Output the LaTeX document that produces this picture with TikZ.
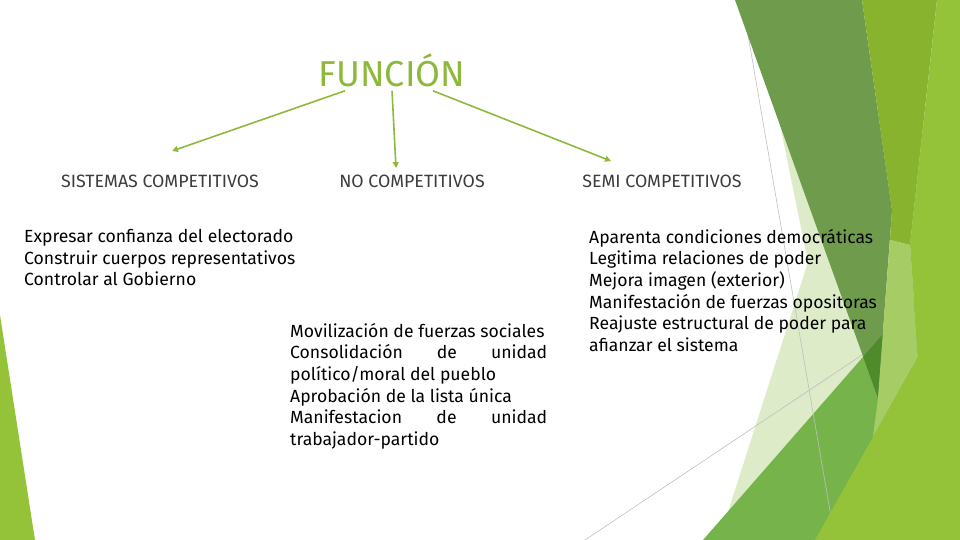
\documentclass[tikz,border=0pt]{standalone}
\usepackage{fontspec}
\setmainfont{Fira Sans}
\usepackage{xcolor}
\usetikzlibrary{positioning,arrows.meta}

\definecolor{tituloverde}{HTML}{8DB83A}
\definecolor{flechaverde}{HTML}{8DBA3C}
\definecolor{grisoscuro}{HTML}{3C3C3C}
\definecolor{palido}{HTML}{DDEBC8}
\definecolor{verdemedio}{HTML}{77B34B}
\definecolor{oliva}{HTML}{6E9B4C}
\definecolor{olivaoscuro}{HTML}{4F8A2B}
\definecolor{amarilloverde}{HTML}{87B32F}
\definecolor{verdeclaro}{HTML}{A6CC66}
\definecolor{lima}{HTML}{94C33A}
\definecolor{lineagris}{HTML}{BFBFBF}

\begin{document}
\begin{tikzpicture}[
    x=1pt, y=-1pt,
    font=\fontsize{17.6}{21.6}\selectfont,
    titulo/.style={font=\fontsize{36}{40}\selectfont, text=tituloverde, inner sep=2pt},
    encabezado/.style={font=\fontsize{17.8}{20}\selectfont, text=grisoscuro, inner sep=0pt},
    lista/.style={align=left, inner sep=0pt, anchor=north west},
    flecha/.style={draw=flechaverde, line width=1.6pt, -{Triangle[length=6pt,width=6pt]}},
    linea/.style={draw=lineagris, line width=0.6pt}
]
\useasboundingbox (0,0) rectangle (960,540);

\fill[palido] (778,115) -- (808,262) -- (719,540) -- (960,540) -- (960,115) -- cycle;
\fill[verdemedio] (703,540) -- (960,246) -- (960,540) -- cycle;
\draw[linea] (742,0) -- (835,540);
\draw[linea] (585,540) -- (865,353);
\fill[oliva] (735,0) -- (862,0) -- (892,210) -- (878,398) -- cycle;
\begin{scope}
\clip (735,0) -- (862,0) -- (892,210) -- (878,398) -- cycle;
\fill[olivaoscuro] (703,540) -- (960,246) -- (960,540) -- cycle;
\end{scope}
\fill[amarilloverde] (862,0) -- (937,0) -- (910,245) -- (890,240) -- (892,210) -- cycle;
\fill[verdeclaro] (890,240) -- (910,245) -- (918,357) -- (873,437) -- (878,398) -- cycle;
\fill[lima] (937,0) -- (960,0) -- (960,540) -- (815,540) -- (873,437) -- (918,357) -- (910,245) -- cycle;
\fill[lima] (0,315) -- (35,540) -- (0,540) -- cycle;

\node[titulo] (funcion) at (392,70) {FUNCIÓN};

\node[encabezado] (sistemas) at (160,181) {SISTEMAS COMPETITIVOS};
\node[encabezado] (nocomp) at (412,181) {NO COMPETITIVOS};
\node[encabezado] (semicomp) at (662,181) {SEMI COMPETITIVOS};

\coordinate (puntasis) at (172,151);
\coordinate (puntano) at (396,168);
\coordinate (puntasemi) at (611,161);

\draw[flecha] ([xshift=-47pt,yshift=-2pt]funcion.south) -- (puntasis);
\draw[flecha] ([yshift=-2pt]funcion.south) -- (puntano);
\draw[flecha] ([xshift=41pt,yshift=-2pt]funcion.south) -- (puntasemi);

\node[lista] (funcsis) at (24,229) {Expresar confianza del electorado\\Construir cuerpos representativos\\Controlar al Gobierno};
\node[lista] (funcno) at (290,323) {Movilización de fuerzas sociales\\\makebox[257pt][s]{Consolidación de unidad}\\político/moral del pueblo\\Aprobación de la lista única\\\makebox[257pt][s]{Manifestacion de unidad}\\trabajador-partido};
\node[lista] (funcsemi) at (589,229) {Aparenta condiciones democráticas\\Legitima relaciones de poder\\Mejora imagen (exterior)\\Manifestación de fuerzas opositoras\\Reajuste estructural de poder para\\afianzar el sistema};

\end{tikzpicture}
\end{document}
